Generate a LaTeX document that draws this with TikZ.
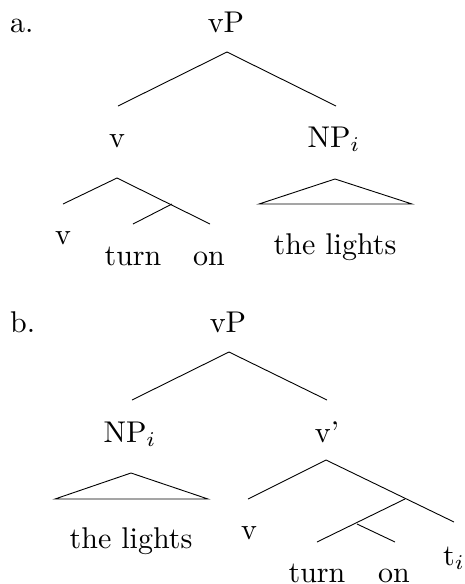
\RequirePackage{fix-cm}
\documentclass[tikz,border=0pt]{standalone}
\usepackage{graphicx}
\newcommand{\bigtxt}[1]{\scalebox{3}{\fontsize{10}{12}\selectfont #1}}
\begin{document}
\begin{tikzpicture}[x=1pt,y=-1pt,
  lbl/.style={inner sep=0pt, anchor=base},
  br/.style={line width=0.9pt, line join=miter}]
\useasboundingbox (0,0) rectangle (464,584);
% ---------- (a) ----------
\node[lbl, anchor=base west] (alab) at (10,32) {\bigtxt{a.}};
\node[lbl] (avP) at (226,32) {\bigtxt{vP}};
\node[lbl] (av) at (117,147) {\bigtxt{v}};
\node[lbl] (aNP) at (334,147) {\bigtxt{NP$_i$}};
\node[lbl] (avv) at (63,244) {\bigtxt{v}};
\node[lbl] (aturn) at (133,265) {\bigtxt{turn}};
\node[lbl] (aon) at (209,265) {\bigtxt{on}};
\node[lbl] (alights) at (335,254) {\bigtxt{the lights}};
\coordinate (a1) at (227,52);
\coordinate (a1l) at (118,106);
\coordinate (a1r) at (336,106);
\coordinate (a2) at (117,178);
\coordinate (a2l) at (63,204);
\coordinate (a2r) at (210,224);
\coordinate (a3) at (172,204);
\coordinate (a3l) at (133,224);
\coordinate (at) at (335,179);
\coordinate (atl) at (259,204);
\coordinate (atr) at (412,204);
\draw[br] (a1l) -- (a1) -- (a1r);
\draw[br] (a2l) -- (a2) -- (a2r);
\draw[br] (a3) -- (a3l);
\draw[br] (at) -- (atl) -- (atr) -- cycle;
% ---------- (b) ----------
\node[lbl, anchor=base west] (blab) at (10,332) {\bigtxt{b.}};
\node[lbl] (bvP) at (228,332) {\bigtxt{vP}};
\node[lbl] (bNP) at (130,442) {\bigtxt{NP$_i$}};
\node[lbl] (bvbar) at (327,442) {\bigtxt{v'}};
\node[lbl] (blights) at (131,548) {\bigtxt{the lights}};
\node[lbl] (bv) at (249,539) {\bigtxt{v}};
\node[lbl] (bturn) at (317,582) {\bigtxt{turn}};
\node[lbl] (bon) at (394,582) {\bigtxt{on}};
\node[lbl, anchor=base west] (bt) at (443,565) {\bigtxt{t$_i$}};
\coordinate (b1) at (229,352);
\coordinate (b1l) at (132,400);
\coordinate (b1r) at (327,400);
\coordinate (bt0) at (131,473);
\coordinate (btl) at (55,499);
\coordinate (btr) at (208,499);
\coordinate (b2) at (326,460);
\coordinate (b2l) at (248,499);
\coordinate (b2r) at (454,522);
\coordinate (b3) at (405,499);
\coordinate (b3l) at (317,542);
\coordinate (b4) at (357,524);
\coordinate (b4r) at (395,542);
\draw[br] (b1l) -- (b1) -- (b1r);
\draw[br] (bt0) -- (btl) -- (btr) -- cycle;
\draw[br] (b2l) -- (b2) -- (b2r);
\draw[br] (b3) -- (b3l);
\draw[br] (b4) -- (b4r);
\end{tikzpicture}
\end{document}
